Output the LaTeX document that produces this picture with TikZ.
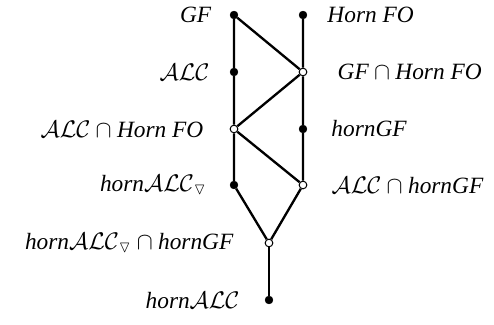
\documentclass[tikz,border=0pt]{standalone}
\usepackage{fontspec}
\setmainfont{Liberation Serif}
\usepackage{amssymb}

\begin{document}
\begin{tikzpicture}[x=0.6pt, y=-0.6pt, line/.style={draw=black, line width=1.4pt},
    every label/.style={font=\fontsize{14}{16}\selectfont\itshape, inner sep=0pt}]
    % Define styles for the two kinds of dots
    \tikzstyle{full} = [circle, fill=black, draw=black, inner sep=0pt, minimum size=4.6pt]
    \tikzstyle{open} = [circle, fill=white, draw=black, line width=0.6pt, inner sep=0pt, minimum size=4.6pt]
    \useasboundingbox (0,0) rectangle (494,325);

    % Nodes placement
    \node [full, label={[label distance=11pt]left:GF}] (gf) at (234,15) {};
    \node [full, label={[label distance=12pt]right:Horn FO}] (hornfo) at (303,15) {};
    \node [full, label={[label distance=12pt]left:$\mathcal{ALC}$}] (alc) at (234,72) {};
    \node [open, label={[label distance=18pt]right:$\textit{GF} \cap \textit{Horn FO}$}] (gfhornfo) at (303,72) {};
    \node [open, label={[label distance=15.6pt]left:$\mathcal{ALC} \cap \textit{Horn FO}$}] (alchornfo) at (234,129) {};
    \node [full, label={[label distance=14.4pt]right:hornGF}] (horngf) at (303,129) {};
    \node [full, label={[label distance=13.8pt]left:horn$\mathcal{ALC}_{\triangledown}$}] (hornalcn) at (234,185) {};
    \node [open, label={[label distance=14.4pt]right:$\mathcal{ALC} \cap \textit{hornGF}$}] (alchorngf) at (303,185) {};
    \node [open, label={[label distance=18.6pt]left:$\textit{horn}\mathcal{ALC}_{\triangledown} \cap \textit{hornGF}$}] (meet) at (269,243) {};
    \node [full, label={[label distance=15pt]left:horn$\mathcal{ALC}$}] (hornalc) at (269,300) {};

    % Draw edges
    \draw[line] (gf) -- (alc) -- (alchornfo) -- (hornalcn) -- (meet);
    \draw[line] (hornfo) -- (gfhornfo) -- (horngf) -- (alchorngf) -- (meet);
    \draw[line] (gf) -- (gfhornfo) -- (alchornfo) -- (alchorngf);
    \draw[line] (meet) -- (hornalc);
\end{tikzpicture}
\end{document}
